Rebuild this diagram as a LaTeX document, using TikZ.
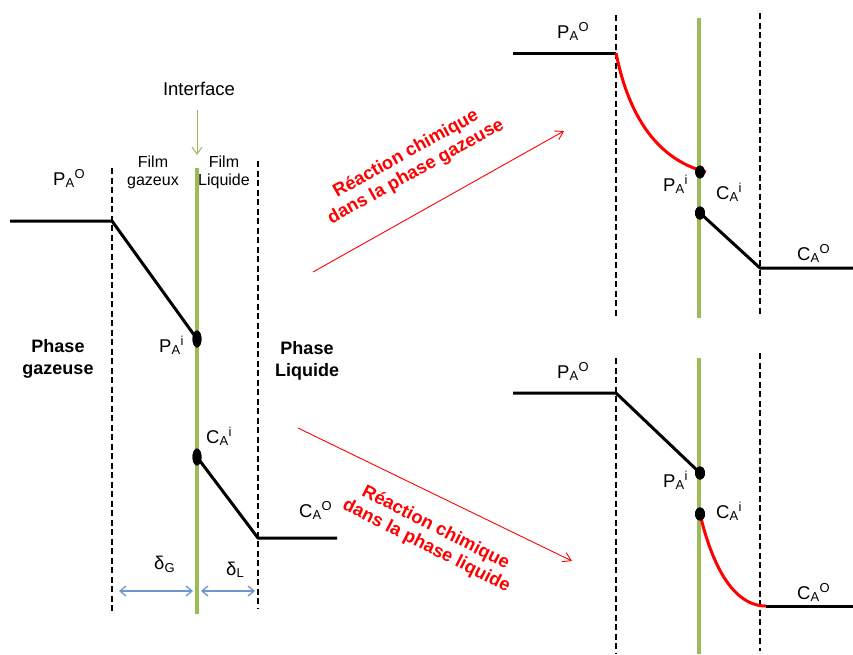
\documentclass[tikz,border=0pt]{standalone}
\usepackage{fontspec}
\setmainfont{Liberation Sans}
\usetikzlibrary{arrows.meta,shapes.geometric}
\definecolor{grn}{RGB}{155,187,89}
\definecolor{blu}{RGB}{110,150,205}
\definecolor{rd}{RGB}{255,0,0}
\begin{document}
\begin{tikzpicture}[x=1pt,y=-1pt,
  lbl/.style={inner sep=0pt,font=\fontsize{18.5}{20}\selectfont},
  film/.style={inner sep=0pt,font=\fontsize{16}{18}\selectfont,align=center},
  phase/.style={inner sep=0pt,font=\fontsize{18}{22}\selectfont\bfseries,align=center},
  react/.style={inner sep=0pt,font=\fontsize{18.3}{20.5}\selectfont\bfseries,align=center,text=rd},
  prof/.style={line width=3pt,black,line join=round},
  redprof/.style={line width=3pt,rd},
  dsh/.style={line width=2pt,dash pattern=on 6pt off 3.5pt},
  iface/.style={line width=3.2pt,grn},
  dotL/.style={ellipse,fill=black,inner sep=0pt,minimum width=9pt,minimum height=17pt},
  dotR/.style={ellipse,fill=black,inner sep=0pt,minimum width=10pt,minimum height=13pt},
  redarrow/.style={line width=0.9pt,rd,-{Straight Barb[length=8pt,width=10pt]}},
  grnarrow/.style={line width=1pt,grn,-{Straight Barb[length=7pt,width=10pt]}},
  bluarrow/.style={line width=1.3pt,blu,{Straight Barb[length=6pt,width=10pt]}-{Straight Barb[length=6pt,width=10pt]}}
]
\useasboundingbox (0,0) rectangle (853,654);

% ---------------- left diagram ----------------
\coordinate (Ldg1) at (112,168);
\coordinate (Ldg2) at (112,613);
\coordinate (Ldl1) at (258,161);
\coordinate (Ldl2) at (258,608);
\coordinate (Li1) at (197,168);
\coordinate (Li2) at (197,614);
\draw[dsh] (Ldg1) -- (Ldg2);
\draw[dsh] (Ldl1) -- (Ldl2);
\draw[iface] (Li1) -- (Li2);

\node[lbl] (interface) at (199,89) {Interface};
\coordinate (Ia1) at (197,110);
\coordinate (Ia2) at (197,155);
\draw[grnarrow] (Ia1) -- (Ia2);

\node[film] (filmg) at (153,172) {Film\\gazeux};
\node[film] (filml) at (224,172) {Film\\Liquide};

\coordinate (Lp0) at (10,221);
\coordinate (Lp1) at (112,221);
\node[dotL] (LPi) at (197,339) {};
\draw[prof] (Lp0) -- (Lp1) -- (LPi.center);
\node[dotL] (LCi) at (197,457) {};
\coordinate (Lc1) at (258,538);
\coordinate (Lc2) at (337,538);
\draw[prof] (LCi.center) -- (Lc1) -- (Lc2);
\node[dotL] at (LPi) {};
\node[dotL] at (LCi) {};

\node[lbl,anchor=base west] (LPAO) at (53,185) {P\textsubscript{A}\textsuperscript{O}};
\node[lbl,anchor=base west] (LPAi) at (159,352) {P\textsubscript{A}\textsuperscript{i}};
\node[lbl,anchor=base west] (LCAi) at (206,443) {C\textsubscript{A}\textsuperscript{i}};
\node[lbl,anchor=base west] (LCAO) at (299,517) {C\textsubscript{A}\textsuperscript{O}};

\node[phase] (phg) at (58,359) {Phase\\gazeuse};
\node[phase] (phl) at (307,361) {Phase\\Liquide};

\node[lbl,anchor=base west] (dG) at (154,569) {δ\textsubscript{G}};
\node[lbl,anchor=base west] (dL) at (226,575) {δ\textsubscript{L}};
\coordinate (bg1) at (119,591);
\coordinate (bg2) at (193,591);
\coordinate (bl1) at (201,591);
\coordinate (bl2) at (255,591);
\draw[bluarrow] (bg1) -- (bg2);
\draw[bluarrow] (bl1) -- (bl2);

% ---------------- reaction arrows ----------------
\coordinate (ra1) at (313,272);
\coordinate (ra2) at (564,131);
\draw[redarrow] (ra1) -- (ra2);
\node[react,rotate=29] (rtop) at (411,163) {Réaction chimique\\dans la phase gazeuse};

\coordinate (rb1) at (298,428);
\coordinate (rb2) at (572,561);
\draw[redarrow] (rb1) -- (rb2);
\node[react,rotate=-27] (rbot) at (431,537) {Réaction chimique\\dans la phase liquide};

% ---------------- top right diagram ----------------
\coordinate (Tdg1) at (616,15);
\coordinate (Tdg2) at (616,316);
\coordinate (Tdl1) at (760,13);
\coordinate (Tdl2) at (760,316);
\coordinate (Ti1) at (699,18);
\coordinate (Ti2) at (699,318);
\draw[dsh] (Tdg1) -- (Tdg2);
\draw[dsh] (Tdl1) -- (Tdl2);
\draw[iface] (Ti1) -- (Ti2);

\coordinate (Tp0) at (513,53);
\coordinate (Tp1) at (616,53);
\coordinate (Tpe) at (706,172);
\draw[prof] (Tp0) -- (Tp1);
\draw[redprof] (Tp1) .. controls (627,108) and (652,158) .. (Tpe);
\node[dotR] (TPi) at (700,172) {};
\node[dotR] (TCi) at (700,213) {};
\coordinate (Tc1) at (760,268);
\coordinate (Tc2) at (853,268);
\draw[prof] (TCi.center) -- (Tc1) -- (Tc2);
\node[dotR] at (TCi) {};

\node[lbl,anchor=base west] (TPAO) at (557,38) {P\textsubscript{A}\textsuperscript{O}};
\node[lbl,anchor=base west] (TPAi) at (663,191) {P\textsubscript{A}\textsuperscript{i}};
\node[lbl,anchor=base west] (TCAi) at (716,199) {C\textsubscript{A}\textsuperscript{i}};
\node[lbl,anchor=base west] (TCAO) at (797,260) {C\textsubscript{A}\textsuperscript{O}};

% ---------------- bottom right diagram ----------------
\coordinate (Bdg1) at (616,358);
\coordinate (Bdg2) at (616,654);
\coordinate (Bdl1) at (760,353);
\coordinate (Bdl2) at (760,651);
\coordinate (Bi1) at (699,358);
\coordinate (Bi2) at (699,654);
\draw[dsh] (Bdg1) -- (Bdg2);
\draw[dsh] (Bdl1) -- (Bdl2);
\draw[iface] (Bi1) -- (Bi2);

\coordinate (Bp0) at (513,393);
\coordinate (Bp1) at (616,393);
\node[dotR] (BPi) at (700,473) {};
\draw[prof] (Bp0) -- (Bp1) -- (BPi.center);
\node[dotR] at (BPi) {};
\node[dotR] (BCi) at (700,514) {};
\coordinate (Bc1) at (766,606);
\coordinate (Bc2) at (853,606);
\draw[redprof] (BCi.center) .. controls (712,565) and (733,606) .. (Bc1);
\draw[prof] (Bc1) -- (Bc2);
\node[dotR] at (BCi) {};

\node[lbl,anchor=base west] (BPAO) at (557,378) {P\textsubscript{A}\textsuperscript{O}};
\node[lbl,anchor=base west] (BPAi) at (663,487) {P\textsubscript{A}\textsuperscript{i}};
\node[lbl,anchor=base west] (BCAi) at (716,518) {C\textsubscript{A}\textsuperscript{i}};
\node[lbl,anchor=base west] (BCAO) at (797,599) {C\textsubscript{A}\textsuperscript{O}};
\end{tikzpicture}
\end{document}
